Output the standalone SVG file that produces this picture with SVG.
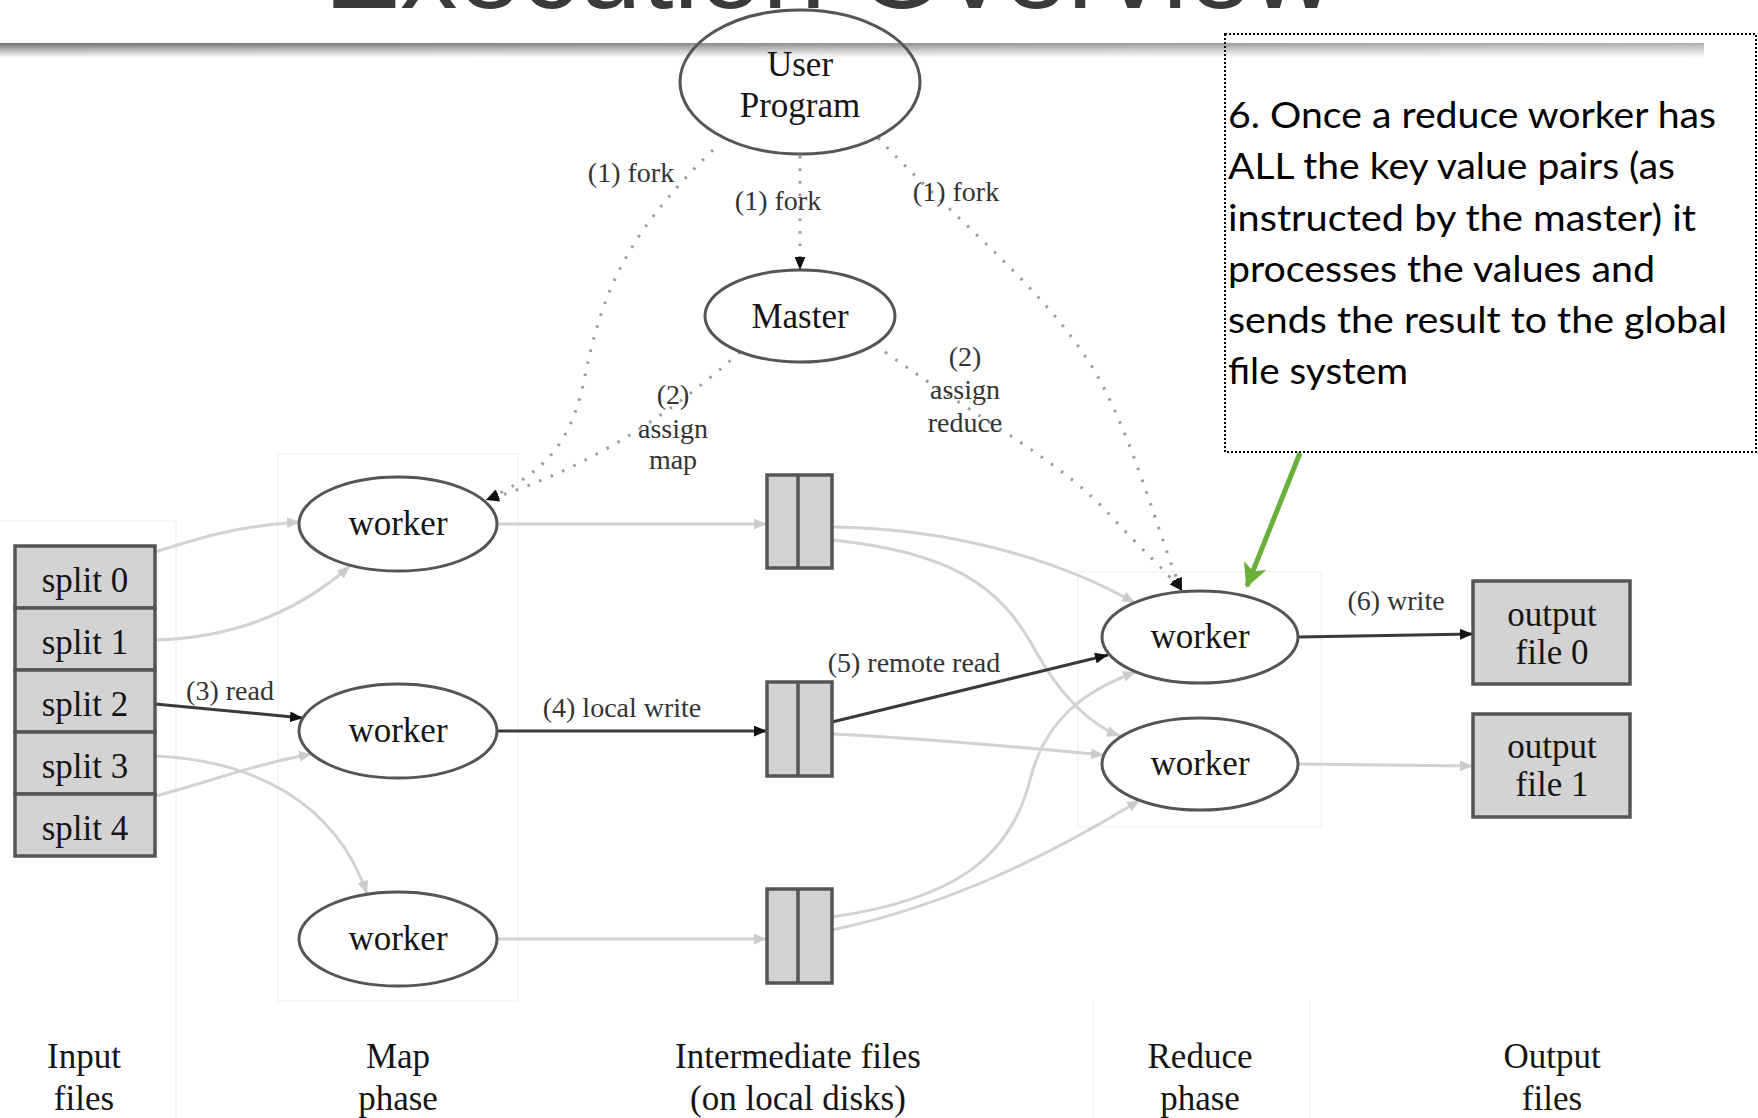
<svg xmlns="http://www.w3.org/2000/svg" width="1758" height="1118" viewBox="0 0 1758 1118">
  <style>
    .node { fill: #ffffff; stroke: #555555; stroke-width: 3; }
    .open { fill: none; stroke: #555555; stroke-width: 3; }
    .file { fill: #d3d3d3; stroke: #555555; stroke-width: 3.5; }
    .label { font-family: "Liberation Serif", "Times New Roman", serif; font-size: 35px; fill: #151515; text-anchor: middle; }
    .elabel { font-family: "Liberation Serif", "Times New Roman", serif; font-size: 28px; fill: #333333; text-anchor: middle; }
    .dark { fill: none; stroke: #3a3a3a; stroke-width: 3; }
    .light { fill: none; stroke: #d2d2d2; stroke-width: 3; }
    .dotted { fill: none; stroke: #9a9a9a; stroke-width: 3; stroke-dasharray: 2.5 10; }
    .cluster { fill: none; stroke: #f6f6f6; stroke-width: 2; }
    .note { font-family: "Lato", "Open Sans", sans-serif; font-size: 37px; fill: #000000; }
  </style>
  <defs>
    <marker id="ah-dark" viewBox="0 0 12 10" refX="12" refY="5" markerWidth="13" markerHeight="11" markerUnits="userSpaceOnUse" orient="auto">
      <path d="M0,0 L12,5 L0,10 z" fill="#111111"/>
    </marker>
    <marker id="ah-light" viewBox="0 0 12 10" refX="12" refY="5" markerWidth="13" markerHeight="11" markerUnits="userSpaceOnUse" orient="auto">
      <path d="M0,0 L12,5 L0,10 z" fill="#cccccc"/>
    </marker>
    <marker id="ah-green" viewBox="0 0 12 12" refX="11" refY="6" markerWidth="24" markerHeight="24" markerUnits="userSpaceOnUse" orient="auto">
      <path d="M0,0 L12,6 L0,12 L3,6 z" fill="#6aaf3a"/>
    </marker>
    <linearGradient id="bar-v" x1="0" y1="0" x2="0" y2="1">
      <stop offset="0" stop-color="#6e6e6e"/>
      <stop offset="0.55" stop-color="#c4c4c4"/>
      <stop offset="1" stop-color="#ffffff"/>
    </linearGradient>
    <linearGradient id="bar-h" x1="0" y1="0" x2="1" y2="0">
      <stop offset="0" stop-color="#ffffff" stop-opacity="0"/>
      <stop offset="1" stop-color="#ffffff" stop-opacity="0.45"/>
    </linearGradient>
  </defs>

  <!-- slide heading and rule -->
  <g id="heading">
    <text x="324" y="8" font-family="Liberation Sans, Arial, sans-serif" font-size="110" fill="#3a3a3a" textLength="1010" lengthAdjust="spacingAndGlyphs">Execution Overview</text>
    <rect x="0" y="43" width="1704" height="15" fill="url(#bar-v)"/>
    <rect x="0" y="43" width="1704" height="15" fill="url(#bar-h)"/>
  </g>

  <!-- faint phase clusters -->
  <g id="clusters">
    <path class="cluster" d="M0,521 L176,521 L176,1118"/>
    <rect class="cluster" x="278" y="454" width="240" height="547"/>
    <rect class="cluster" x="1078" y="572" width="243" height="255"/>
    <path class="cluster" d="M1093,1000 L1093,1118 M1310,1000 L1310,1118"/>
  </g>

  <g id="connectors">
    <!-- (1) fork / (2) assign control edges -->
    <path class="dotted" d="M713,150 C620,240 600,300 582,390 C568,445 545,472 486,500" marker-end="url(#ah-dark)"/>
    <path class="dotted" d="M740,352 Q620,460 486,500" marker-end="url(#ah-dark)"/>
    <path class="dotted" d="M800,156 L800,270" marker-end="url(#ah-dark)"/>
    <path class="dotted" d="M878,138 C960,225 1060,300 1105,390 C1140,460 1160,540 1182,591" marker-end="url(#ah-dark)"/>
    <path class="dotted" d="M885,352 C980,420 1060,460 1110,515 C1140,548 1165,570 1182,591" marker-end="url(#ah-dark)"/>

    <!-- input splits to map workers -->
    <path class="light" d="M155,552 C205,536 240,526 300,522" marker-end="url(#ah-light)"/>
    <path class="light" d="M155,640 C235,638 300,610 350,566" marker-end="url(#ah-light)"/>
    <path class="dark" d="M155,704 L303,718" marker-end="url(#ah-dark)"/>
    <path class="light" d="M155,756 C250,760 335,800 367,894" marker-end="url(#ah-light)"/>
    <path class="light" d="M155,796 C200,785 250,765 312,754" marker-end="url(#ah-light)"/>

    <!-- map workers to intermediate files -->
    <path class="light" d="M498,524 L767,524" marker-end="url(#ah-light)"/>
    <path class="dark" d="M498,731 L767,731" marker-end="url(#ah-dark)"/>
    <path class="light" d="M498,939 L767,939" marker-end="url(#ah-light)"/>

    <!-- intermediate files to reduce workers -->
    <path class="light" d="M832,527 C950,528 1060,560 1135,603" marker-end="url(#ah-light)"/>
    <path class="light" d="M832,540 C950,552 1000,585 1035,650 C1060,695 1090,725 1120,736" marker-end="url(#ah-light)"/>
    <path class="dark" d="M832,722 L1108,655" marker-end="url(#ah-dark)"/>
    <path class="light" d="M832,734 C950,740 1050,750 1104,755" marker-end="url(#ah-light)"/>
    <path class="light" d="M832,917 C950,900 1010,860 1030,780 C1045,720 1085,690 1136,672" marker-end="url(#ah-light)"/>
    <path class="light" d="M832,930 C950,905 1050,855 1140,800" marker-end="url(#ah-light)"/>

    <!-- reduce workers to output files -->
    <path class="dark" d="M1298,637 L1473,634" marker-end="url(#ah-dark)"/>
    <path class="light" d="M1298,764 L1473,766" marker-end="url(#ah-light)"/>

    <!-- edge labels -->
    <text class="elabel" x="631" y="182">(1) fork</text>
    <text class="elabel" x="778" y="210">(1) fork</text>
    <text class="elabel" x="956" y="201">(1) fork</text>
    <text class="elabel" x="673" y="404">(2)</text>
    <text class="elabel" x="673" y="438">assign</text>
    <text class="elabel" x="673" y="469">map</text>
    <text class="elabel" x="965" y="366">(2)</text>
    <text class="elabel" x="965" y="399">assign</text>
    <text class="elabel" x="965" y="432">reduce</text>
    <text class="elabel" x="230" y="700">(3) read</text>
    <text class="elabel" x="622" y="717">(4) local write</text>
    <text class="elabel" x="914" y="672">(5) remote read</text>
    <text class="elabel" x="1396" y="610">(6) write</text>
  </g>

  <g id="user-program">
    <ellipse class="open" cx="800" cy="82" rx="120" ry="72"/>
    <text class="label" x="800" y="76">User</text>
    <text class="label" x="800" y="117">Program</text>
  </g>

  <g id="master">
    <ellipse class="node" cx="800" cy="316" rx="95" ry="46"/>
    <text class="label" x="800" y="328">Master</text>
  </g>

  <g id="input-files">
    <rect class="file" x="15" y="546" width="140" height="62"/>
    <text class="label" x="85" y="592">split 0</text>
    <rect class="file" x="15" y="608" width="140" height="62"/>
    <text class="label" x="85" y="654">split 1</text>
    <rect class="file" x="15" y="670" width="140" height="62"/>
    <text class="label" x="85" y="716">split 2</text>
    <rect class="file" x="15" y="732" width="140" height="62"/>
    <text class="label" x="85" y="778">split 3</text>
    <rect class="file" x="15" y="794" width="140" height="62"/>
    <text class="label" x="85" y="840">split 4</text>
  </g>

  <g id="map-worker-0">
    <ellipse class="node" cx="398" cy="524" rx="99" ry="47"/>
    <text class="label" x="398" y="535">worker</text>
  </g>
  <g id="map-worker-1">
    <ellipse class="node" cx="398" cy="731" rx="99" ry="47"/>
    <text class="label" x="398" y="742">worker</text>
  </g>
  <g id="map-worker-2">
    <ellipse class="node" cx="398" cy="939" rx="99" ry="47"/>
    <text class="label" x="398" y="950">worker</text>
  </g>

  <g id="intermediate-0">
    <rect class="file" x="767" y="475" width="65" height="93"/>
    <line x1="798" y1="475" x2="798" y2="568" stroke="#555555" stroke-width="3.5"/>
  </g>
  <g id="intermediate-1">
    <rect class="file" x="767" y="682" width="65" height="94"/>
    <line x1="798" y1="682" x2="798" y2="776" stroke="#555555" stroke-width="3.5"/>
  </g>
  <g id="intermediate-2">
    <rect class="file" x="767" y="889" width="65" height="94"/>
    <line x1="798" y1="889" x2="798" y2="983" stroke="#555555" stroke-width="3.5"/>
  </g>

  <g id="reduce-worker-0">
    <ellipse class="node" cx="1200" cy="637" rx="98" ry="46"/>
    <text class="label" x="1200" y="648">worker</text>
  </g>
  <g id="reduce-worker-1">
    <ellipse class="node" cx="1200" cy="764" rx="98" ry="46"/>
    <text class="label" x="1200" y="775">worker</text>
  </g>

  <g id="output-file-0">
    <rect class="file" x="1473" y="581" width="157" height="103"/>
    <text class="label" x="1552" y="626">output</text>
    <text class="label" x="1552" y="664">file 0</text>
  </g>
  <g id="output-file-1">
    <rect class="file" x="1473" y="714" width="157" height="103"/>
    <text class="label" x="1552" y="758">output</text>
    <text class="label" x="1552" y="796">file 1</text>
  </g>

  <g id="phase-labels">
    <text class="label" x="84" y="1068">Input</text>
    <text class="label" x="84" y="1110">files</text>
    <text class="label" x="398" y="1068">Map</text>
    <text class="label" x="398" y="1110">phase</text>
    <text class="label" x="798" y="1068">Intermediate files</text>
    <text class="label" x="798" y="1110">(on local disks)</text>
    <text class="label" x="1200" y="1068">Reduce</text>
    <text class="label" x="1200" y="1110">phase</text>
    <text class="label" x="1552" y="1068">Output</text>
    <text class="label" x="1552" y="1110">files</text>
  </g>

  <g id="callout">
    <rect x="1225" y="34" width="531" height="418" fill="none" stroke="#000000" stroke-width="2" stroke-dasharray="2 2"/>
    <text class="note" x="1228" y="128" textLength="488" lengthAdjust="spacingAndGlyphs">6. Once a reduce worker has</text>
    <text class="note" x="1228" y="179" textLength="447" lengthAdjust="spacingAndGlyphs">ALL the key value pairs (as</text>
    <text class="note" x="1228" y="231" textLength="468" lengthAdjust="spacingAndGlyphs">instructed by the master) it</text>
    <text class="note" x="1228" y="282" textLength="427" lengthAdjust="spacingAndGlyphs">processes the values and</text>
    <text class="note" x="1228" y="333" textLength="499" lengthAdjust="spacingAndGlyphs">sends the result to the global</text>
    <text class="note" x="1228" y="384" textLength="180" lengthAdjust="spacingAndGlyphs">file system</text>
    <line x1="1300" y1="453" x2="1247" y2="586" stroke="#6aaf3a" stroke-width="5" marker-end="url(#ah-green)"/>
  </g>
</svg>
